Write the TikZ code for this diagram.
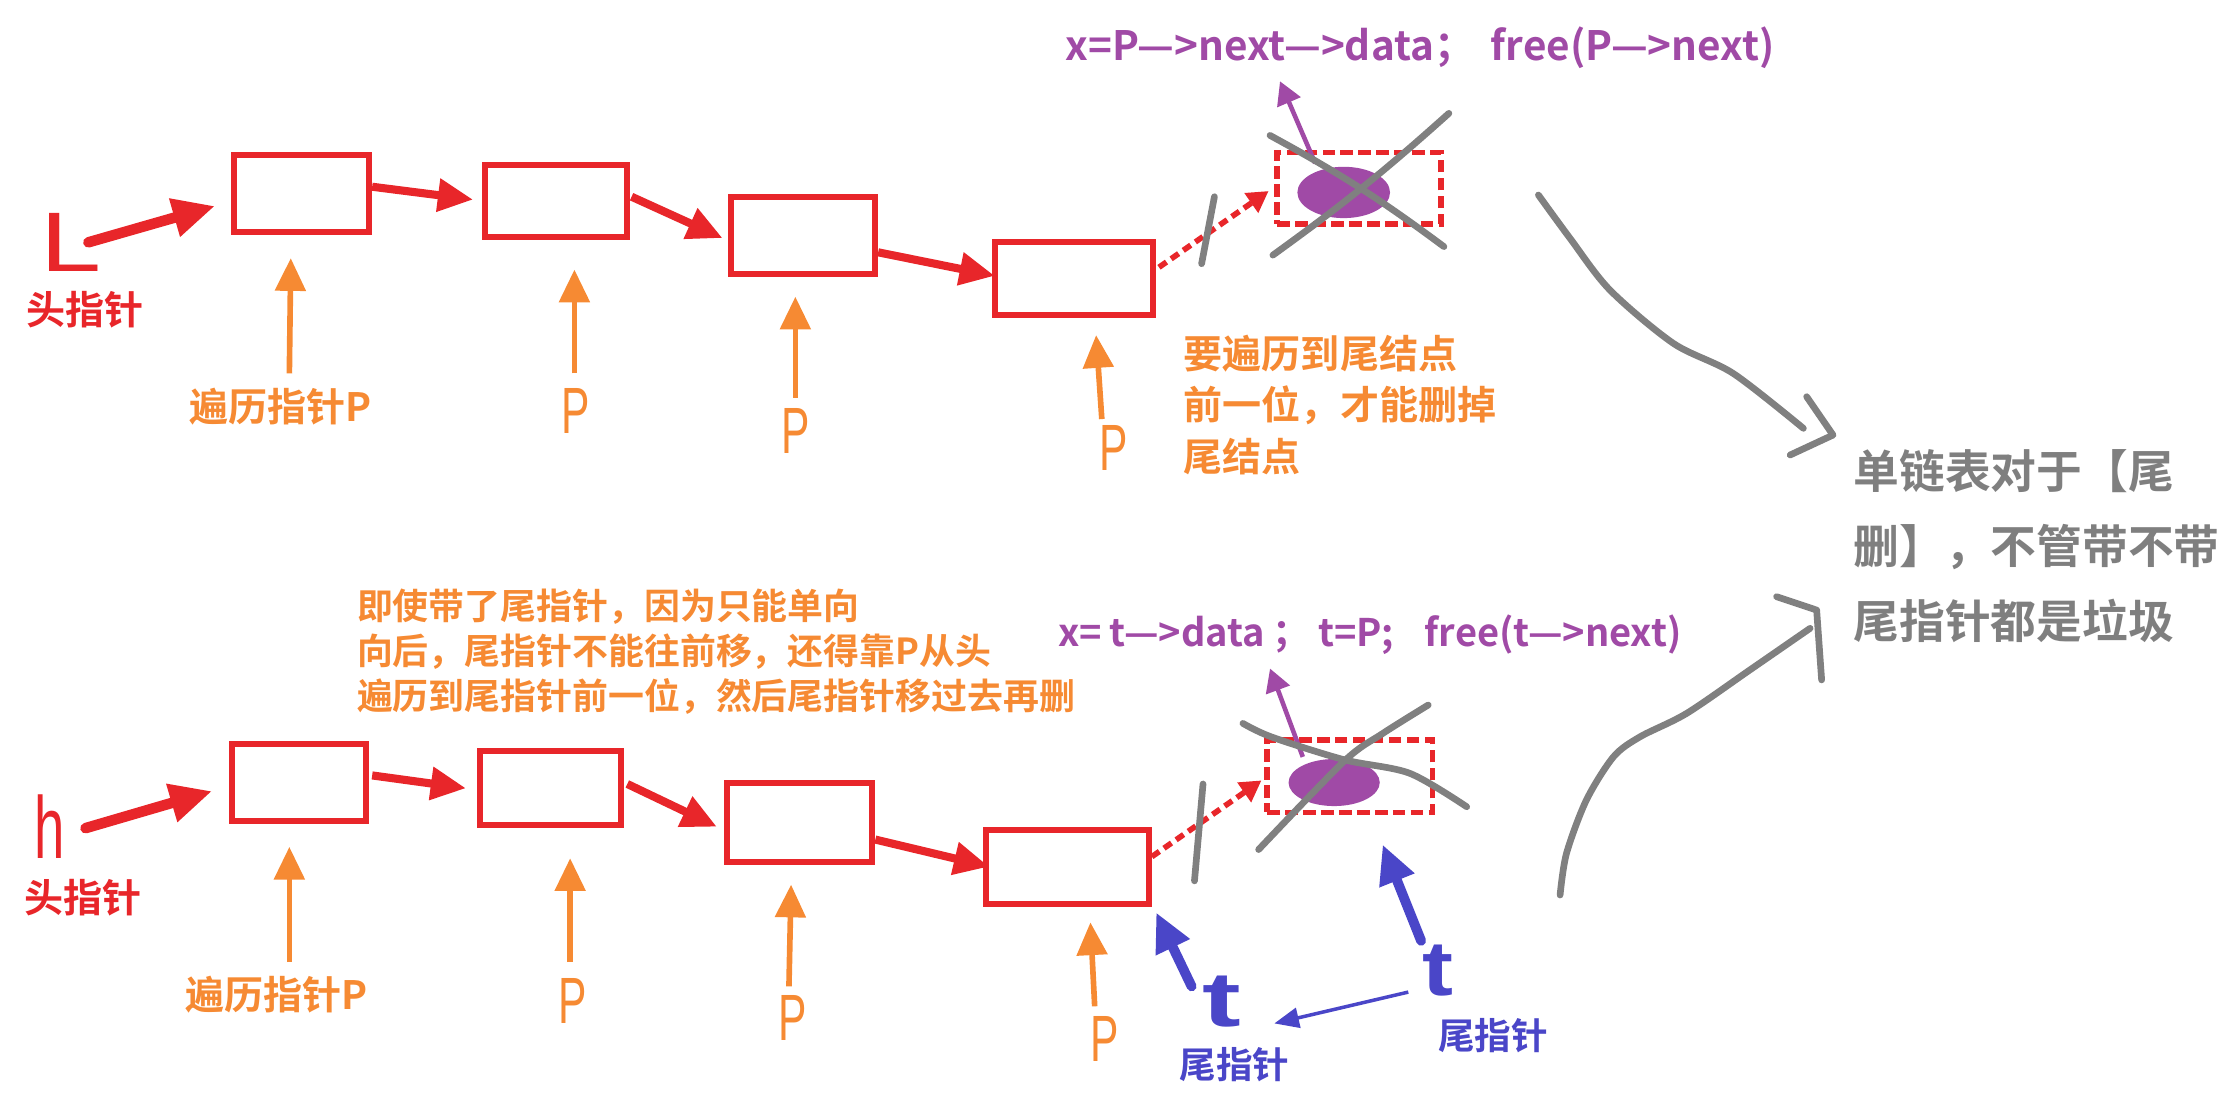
\documentclass[tikz,border=0pt]{standalone}
\usepackage{fontspec}
\setmainfont{Noto Sans CJK SC}[BoldFont={Noto Sans CJK SC Bold}]
\newfontfamily\hand{Liberation Sans}
\usetikzlibrary{arrows.meta,calc,shapes.geometric}
\definecolor{cred}{HTML}{E8262A}
\definecolor{corange}{HTML}{F68A33}
\definecolor{cpurple}{HTML}{A04AA6}
\definecolor{cblue}{HTML}{4A46C8}
\definecolor{cgray}{HTML}{808080}
\definecolor{ctext}{HTML}{7F7F7F}
\def\U{0.405pt}
\tikzset{
  box/.style={draw=cred, line width=1.7pt, inner sep=0},
  dbox/.style={draw=cred, line width=1.6pt, dash pattern=on 3.6pt off 1.5pt, inner sep=0},
  rarrow/.style={draw=cred, line width=2.3pt, -{Triangle[length=10pt,width=9pt]}},
  harrow/.style={draw=cred, line width=3pt, line cap=round, -{Triangle[length=12pt,width=10.5pt]}},
  darrow/.style={draw=cred, line width=1.6pt, dash pattern=on 2.6pt off 1.6pt, -{Triangle[length=6pt,width=6.5pt]}},
  oarrow/.style={draw=corange, line width=1.6pt, -{Triangle[length=9.3pt,width=8.5pt]}},
  parrow/.style={draw=cpurple, line width=1.3pt, -{Triangle[length=6.5pt,width=7pt]}},
  barrow/.style={draw=cblue, line width=2.8pt, line cap=round, -{Triangle[length=11pt,width=10pt]}},
  tbarrow/.style={draw=cblue, line width=1pt, -{Triangle[length=7pt,width=5.7pt]}},
  gline/.style={draw=cgray, line width=1.9pt, line cap=round, line join=round},
  ell/.style={ellipse, fill=cpurple, inner sep=0},
  lbl/.style={inner sep=0, font=\bfseries\fontsize{11.1pt}{13pt}\selectfont},
  hw/.style={inner sep=0, font=\hand\fontsize{18.6pt}{18.6pt}\selectfont, text=corange},
}
\begin{document}
\begin{tikzpicture}[x=0.405pt,y=-0.405pt]
\useasboundingbox (0,0) rectangle (1568,785);

% ---------------- top row ----------------
\node[inner sep=0, font=\hand\fontsize{24pt}{24pt}\selectfont, text=cred] (L1) at (50,170) {\scalebox{1.3}[1]{L}};
\node[lbl, text=cred] (h1) at (59.6,217) {头指针};
\coordinate (hs1) at (62,170);

\node[box, minimum width=95*\U, minimum height=54*\U] (a1) at (211.5,136) {};
\node[box, minimum width=100*\U, minimum height=50*\U] (a2) at (390,141) {};
\node[box, minimum width=101*\U, minimum height=54*\U] (a3) at (563.5,165) {};
\node[box, minimum width=111*\U, minimum height=51*\U] (a4) at (753.5,195.5) {};
\node[dbox, minimum width=115*\U, minimum height=50*\U] (d1) at (953.5,132) {};
\node[ell, minimum width=65*\U, minimum height=36*\U] (e1) at (942.7,135) {};

\draw[harrow] (hs1) -- ($(a1.west)+(-11,8.5)$);
\draw[rarrow] ($(a1.east)+(0,-5)$) -- ($(a2.west)+(-6,-1)$);
\draw[rarrow] ($(a2.east)+(1,-3)$) -- ($(a3.west)+(-4,2)$);
\draw[rarrow] ($(a3.east)+(0,12)$) -- ($(a4.west)+(2,-2)$);
\draw[darrow] ($(a4.east)+(2,-8)$) -- ($(d1.west)+(-4,2)$);

\node[lbl, text=corange] (p1) at (197,285) {遍历指针P};
\node[hw] (p2) at (404,288) {\scalebox{0.65}[1]{P}};
\node[hw] (p3) at (558,302) {\scalebox{0.65}[1]{P}};
\node[hw] (p4) at (781,314) {\scalebox{0.65}[1]{P}};
\coordinate (os1) at (203,262);
\coordinate (os2) at (403,262);
\coordinate (os3) at (558,279);
\coordinate (os4) at (773,294);
\draw[oarrow] (os1) -- ($(a1.south)+(-7.5,16)$);
\draw[oarrow] (os2) -- ($(a2.south)+(13,21)$);
\draw[oarrow] (os3) -- ($(a3.south)+(-5.5,14)$);
\draw[oarrow] (os4) -- ($(a4.south)+(15.5,12)$);

\node[lbl, text=corange, anchor=west, align=left, font=\bfseries\fontsize{11.1pt}{14.6pt}\selectfont] (n1) at (830,284) {要遍历到尾结点\\前一位，才能删掉\\尾结点};

\node[inner sep=0, anchor=west, text=cpurple, font=\bfseries\fontsize{11.5pt}{12pt}\selectfont] (f1) at (747,33.5) {x=P—>next—>data；\hspace{0.4em}free(P—>next)};
\coordinate (pt1) at (898,57);
\draw[parrow] ($(e1.north)+(-20,-2)$) -- (pt1);

\draw[gline] (852,138) -- (843,185);
\draw[gline] (891,95) to[bend left=4] (1013,173);
\draw[gline] (1016.5,79.5) to[bend left=3] (893,179);

% ---------------- bottom row ----------------
\node[inner sep=0, font=\hand\fontsize{25pt}{25pt}\selectfont, text=cred] (H1) at (35,580) {\scalebox{0.62}[1]{h}};
\node[lbl, text=cred] (h2) at (58.5,629.5) {头指针};
\coordinate (hs2) at (60,581);

\node[box, minimum width=94*\U, minimum height=54*\U] (b1) at (210,549) {};
\node[box, minimum width=99*\U, minimum height=52*\U] (b2) at (386.5,553) {};
\node[box, minimum width=102*\U, minimum height=56*\U] (b3) at (561,577) {};
\node[box, minimum width=114*\U, minimum height=52*\U] (b4) at (749,608) {};
\node[dbox, minimum width=116*\U, minimum height=51*\U] (d2) at (947,544.5) {};
\node[ell, minimum width=64*\U, minimum height=33*\U] (e2) at (936,549) {};

\draw[harrow] (hs2) -- ($(b1.west)+(-12,6)$);
\draw[rarrow] ($(b1.east)+(2,-5)$) -- ($(b2.west)+(-8,0)$);
\draw[rarrow] ($(b2.east)+(2,-3)$) -- ($(b3.west)+(-5,3)$);
\draw[rarrow] ($(b3.east)+(0,12)$) -- ($(b4.west)+(4,0)$);
\draw[darrow] ($(b4.east)+(0,-7)$) -- ($(d2.west)+(-2,3)$);

\node[lbl, text=corange] (q1) at (194,698) {遍历指针P};
\node[hw] (q2) at (402,702) {\scalebox{0.65}[1]{P}};
\node[hw] (q3) at (556,714) {\scalebox{0.65}[1]{P}};
\node[hw] (q4) at (775,729) {\scalebox{0.65}[1]{P}};
\coordinate (ps1) at (203,675);
\coordinate (ps2) at (400,675);
\coordinate (ps3) at (553.5,692);
\coordinate (ps4) at (768,706);
\draw[oarrow] (ps1) -- ($(b1.south)+(-7,16)$);
\draw[oarrow] (ps2) -- ($(b2.south)+(13.5,21)$);
\draw[oarrow] (ps3) -- ($(b3.south)+(-6,13.5)$);
\draw[oarrow] (ps4) -- ($(b4.south)+(16,11)$);

\node[lbl, text=corange, anchor=west, align=left, font=\bfseries\fontsize{10.2pt}{12.85pt}\selectfont] (n2) at (250,457) {即使带了尾指针，因为只能单向\\向后，尾指针不能往前移，还得靠P从头\\遍历到尾指针前一位，然后尾指针移过去再删};

\node[inner sep=0, anchor=west, text=cpurple, font=\bfseries\fontsize{10.8pt}{12pt}\selectfont] (f2) at (742,445) {x=\hspace{0.2em}t—>data\hspace{0.2em}；\hspace{0.2em}t=P;\hspace{0.8em}free(t—>next)};
\coordinate (pt2) at (891,469);
\draw[parrow] ($(e2.north)+(-22,-1)$) -- (pt2);

\draw[gline] (844,550) -- (838,618);
\draw[gline] plot[smooth] coordinates {(872,507.5) (892,517) (943,533) (989,542.5) (1029,566)};
\draw[gline] plot[smooth] coordinates {(1002,494.6) (970,514.6) (943,534) (883,596)};

% blue tail pointers
\node[inner sep=0, font=\hand\bfseries\fontsize{22pt}{22pt}\selectfont, text=cblue] (t1) at (857,703) {\scalebox{1.5}[1]{t}};
\node[inner sep=0, font=\hand\bfseries\fontsize{22pt}{22pt}\selectfont, text=cblue] (t2) at (1009,681) {\scalebox{1.2}[1]{t}};
\node[lbl, text=cblue, font=\bfseries\fontsize{10.4pt}{12pt}\selectfont] (w1) at (866,747) {尾指针};
\node[lbl, text=cblue, font=\bfseries\fontsize{10.4pt}{12pt}\selectfont] (w2) at (1047.6,726.7) {尾指针};
\draw[barrow] ($(t1.center)+(-21,-11)$) -- ($(b4.south east)+(3,4)$);
\draw[barrow] ($(t2.center)+(-12,-21)$) -- ($(d2.south)+(23,20.5)$);
\draw[tbarrow] ($(t2.center)+(-21,15)$) -- ($(t1.center)+(37,15)$);

% ---------------- right side ----------------
\draw[gline] plot[smooth] coordinates {(1079.3,136.8) (1101.5,167.2) (1129.5,203.5) (1174,240.9) (1216,262) (1265.2,300.5)};
\draw[gline] (1267.5,278.3) -- (1286,305.2) -- (1255.9,319.2);
\draw[gline] plot[smooth] coordinates {(1094.5,627.9) (1099,598.7) (1113,561.2) (1132,530.9) (1150.6,516.9) (1183.4,500.4) (1227.8,469.9) (1269.9,440.8)};
\draw[gline] (1246.4,418.6) -- (1274.5,428) -- (1278,477);

\node[inner sep=0, anchor=west, align=left, text=ctext, font=\bfseries\fontsize{13pt}{21.3pt}\selectfont] (g1) at (1300,383) {单链表对于【尾\\删】，不管带不带\\尾指针都是垃圾};
\end{tikzpicture}
\end{document}
